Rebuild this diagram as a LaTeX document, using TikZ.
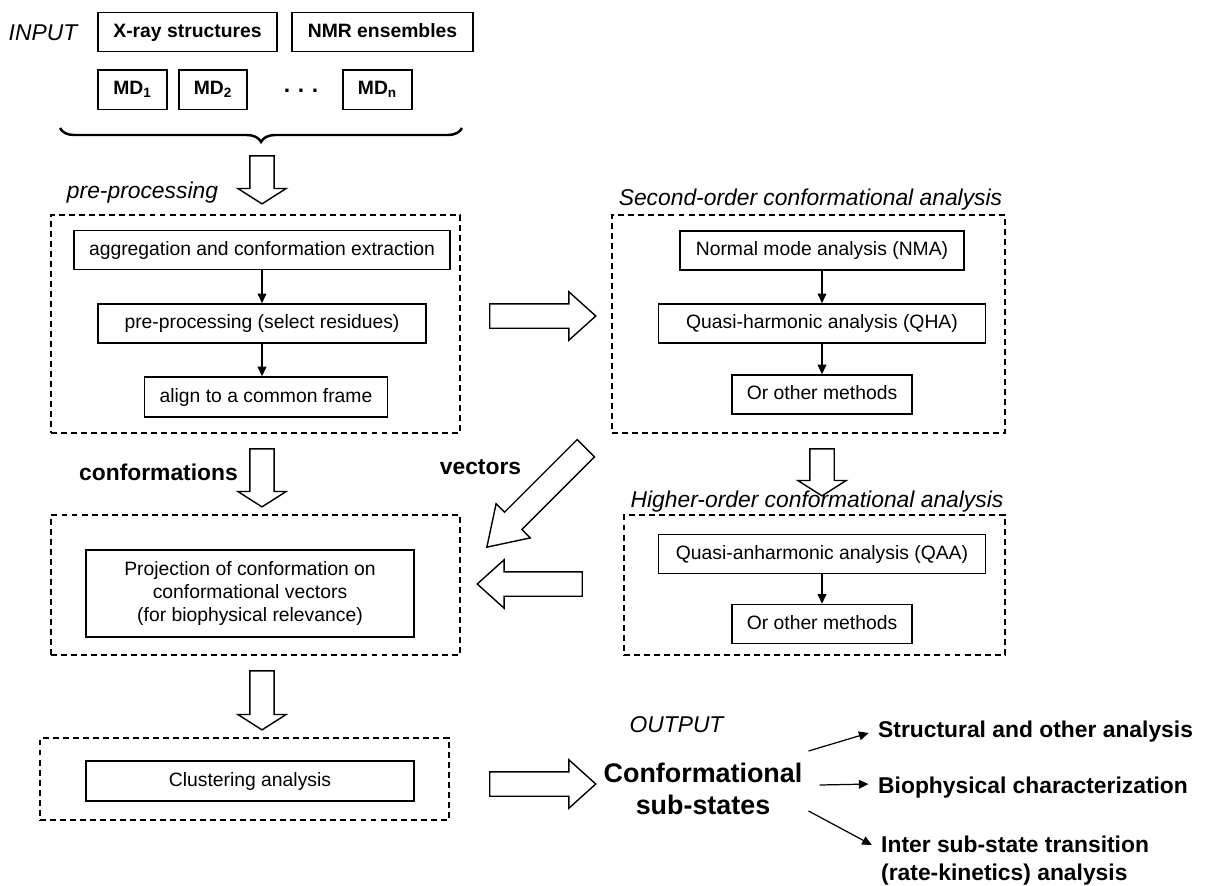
\documentclass[tikz,border=0pt]{standalone}
\usepackage{fontspec}
\setmainfont{Liberation Sans}
\usetikzlibrary{shapes.arrows,decorations.pathreplacing,arrows.meta}
\begin{document}
\begin{tikzpicture}[x=0.02cm,y=-0.02cm,
box/.style={draw, line width=0.85pt, inner sep=0pt, minimum height=0.78cm, font=\fontsize{11}{13}\selectfont},
line/.style={box, text height=0.72em, text depth=0.1em},
inbox/.style={line, minimum height=0.79cm, font=\fontsize{11}{13}\selectfont\bfseries},
group/.style={draw, line width=0.75pt, dash pattern=on 3.4pt off 2.3pt, inner sep=0pt},
title/.style={font=\fontsize{13}{15}\selectfont\itshape},
tag/.style={font=\fontsize{13}{15.9}\selectfont\bfseries},
fat/.style={single arrow, draw, line width=0.8pt, inner sep=0.23cm, single arrow head extend=0.24cm, single arrow head indent=0pt, minimum width=0.94cm},
flow/.style={line width=0.7pt, -{Triangle[length=5.5pt,width=5pt]}}]
\useasboundingbox (0,0) rectangle (1205,886);

\node (input) at (43,33) [title] {INPUT};
\node (xray) at (187.5,32) [inbox, minimum width=3.58cm] {X-ray structures};
\node (nmr) at (382.5,32) [inbox, minimum width=3.62cm] {NMR ensembles};
\node (md1) at (132.5,89.5) [inbox, minimum width=1.38cm] {MD\textsubscript{1}};
\node (md2) at (213,89.5) [inbox, minimum width=1.36cm] {MD\textsubscript{2}};
\node (dots) at (301,91) [tag] {.\,\,.\,\,.};
\node (mdn) at (377.5,89.5) [inbox, minimum width=1.38cm] {MD\textsubscript{n}};
\draw[decorate, decoration={brace, mirror, amplitude=0.28cm}, line width=1.4pt] (60,128) -- (462,128);

\node (a1) at (262,176) [fat, rotate=-90, minimum height=0.96cm, single arrow tip angle=115] {};
\node (prelab) at (142.5,193) [title] {pre-processing};
\node (prebox) at (255.5,324) [group, minimum width=8.18cm, minimum height=4.36cm] {};
\node (agg) at (262,250) [line, minimum width=7.52cm] {aggregation and conformation extraction};
\node (sel) at (262,323.5) [line, minimum width=6.56cm] {pre-processing (select residues)};
\node (align) at (266,397) [line, minimum width=4.86cm, minimum height=0.8cm] {align to a common frame};

\node (a4) at (536,316) [fat, minimum height=2.12cm, single arrow tip angle=84] {};
\node (seclab) at (810.5,200) [title] {Second-order conformational analysis};
\node (secbox) at (808.5,324) [group, minimum width=7.86cm, minimum height=4.36cm] {};
\node (nma) at (822,250.5) [line, minimum width=5.68cm] {Normal mode analysis (NMA)};
\node (qha) at (822,323.5) [line, minimum width=6.54cm] {Quasi-harmonic analysis (QHA)};
\node (oth1) at (822,394.5) [line, minimum width=3.6cm] {Or other methods};

\node (a2) at (262,474) [fat, rotate=-90, minimum height=1.16cm, single arrow tip angle=115] {};
\node (conf) at (158.5,472) [tag] {conformations};
\node (vec) at (480.5,467) [tag] {vectors};
\node (a8) at (543,491) [fat, rotate=225, minimum height=2.8cm, single arrow tip angle=66] {};
\node (a5) at (822,468.5) [fat, rotate=-90, minimum height=0.94cm, single arrow tip angle=115] {};

\node (highlab) at (817,502) [title] {Higher-order conformational analysis};
\node (highbox) at (814.5,585) [group, minimum width=7.62cm, minimum height=2.8cm] {};
\node (qaa) at (822,554) [line, minimum width=6.54cm] {Quasi-anharmonic analysis (QAA)};
\node (oth2) at (822,624) [line, minimum width=3.6cm] {Or other methods};

\node (a6) at (536.5,584) [fat, rotate=180, minimum height=2.1cm, single arrow tip angle=84] {};
\node (projbox) at (255.5,585) [group, minimum width=8.18cm, minimum height=2.8cm] {};
\node (proj) at (250,593.5) [box, minimum width=6.56cm, minimum height=1.74cm, align=center] {Projection of conformation on\\conformational vectors\\(for biophysical relevance)};

\node (a3) at (262,696.5) [fat, rotate=-90, minimum height=1.18cm, single arrow tip angle=115] {};
\node (clubox) at (244.5,779) [group, minimum width=8.18cm, minimum height=1.64cm] {};
\node (clust) at (250,781) [line, minimum width=6.56cm, minimum height=0.8cm] {Clustering analysis};

\node (a7) at (536,784) [fat, minimum height=2.12cm, single arrow tip angle=84] {};
\node (output) at (676.5,725) [title] {OUTPUT};
\node (states) at (703,789) [font=\fontsize{15.3}{18.1}\selectfont\bfseries, align=center] {Conformational\\sub-states};
\node (struct) at (872,732) [tag, anchor=west] {Structural and other analysis};
\node (bio) at (872,788) [tag, anchor=west] {Biophysical characterization};
\node (inter) at (875,861) [tag, anchor=west, align=left] {Inter sub-state transition\\(rate-kinetics) analysis};

\path
(agg) edge[flow] (sel)
(sel.south) edge[flow] (sel.south |- align.north)
(nma) edge[flow] (qha)
(qha) edge[flow] (oth1)
(qaa) edge[flow] (oth2);

\path[every edge/.append style={flow, shorten >=2pt}]
([yshift=0.12cm]states.north east) edge (struct.west)
([xshift=0.22cm,yshift=0.08cm]states.east) edge ([yshift=0.08cm]bio.west)
([yshift=0.2cm]states.south east) edge ([yshift=-0.33cm]inter.north west);
\end{tikzpicture}
\end{document}
